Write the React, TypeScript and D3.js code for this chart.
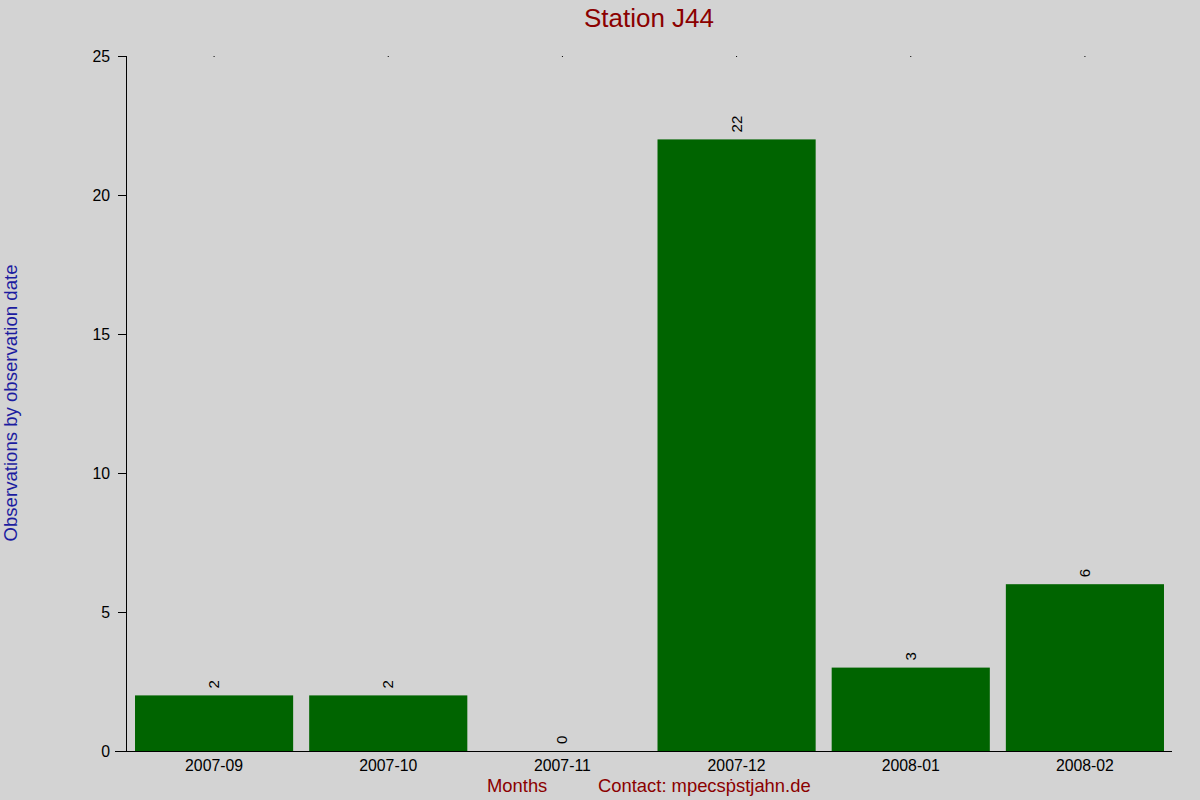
import React from "react";
import * as d3 from "d3";

const categories = ["2007-09", "2007-10", "2007-11", "2007-12", "2008-01", "2008-02"];
const values = [2, 2, 0, 22, 3, 6];
const yTicks = [0, 5, 10, 15, 20, 25];

const W = 1200;
const H = 800;
const font = "'Liberation Sans', Arial, sans-serif";

export default function App() {
  const x = d3.scaleBand<string>().domain(categories).range([127, 1172]).paddingInner(0.092).paddingOuter(0.046);
  const y = d3.scaleLinear().domain([0, 25]).range([751, 56]);
  return (
    <svg width={W} height={H} style={{ position: "fixed", left: 0, top: 0 }} fontFamily={font}>
      <rect x={0} y={0} width={W} height={H} fill="#d3d3d3" />
      <text x={649} y={27} textAnchor="middle" fontSize={26} fill="#8b0000">Station J44</text>
      <text transform={`translate(17,403) rotate(-90)`} textAnchor="middle" fontSize={18.6} fill="#1c1ca0">Observations by observation date</text>
      {categories.map((c, i) => {
        const v = values[i];
        const bx = x(c)!;
        const cx = bx + x.bandwidth() / 2;
        return (
          <g key={c}>
            {v > 0 && <rect x={bx} y={y(v)} width={x.bandwidth()} height={y(0) - y(v)} fill="#006400" />}
            <text transform={`translate(${cx + 5},${y(v) - 7}) rotate(-90)`} fontSize={15} fill="#000">{v}</text>
            <rect x={cx - 0.5} y={56} width={1} height={1} fill="#000" />
            <text x={cx} y={771} textAnchor="middle" fontSize={15.8} fill="#000">{c}</text>
          </g>
        );
      })}
      <line x1={126.5} x2={126.5} y1={56} y2={751} stroke="#000" strokeWidth={1} />
      <line x1={115} x2={1172} y1={751.5} y2={751.5} stroke="#000" strokeWidth={1} />
      {yTicks.map((t) => (
        <g key={t}>
          <line x1={118} x2={126} y1={Math.round(y(t)) + 0.5} y2={Math.round(y(t)) + 0.5} stroke="#000" />
          <text x={110} y={y(t) + 5.5} textAnchor="end" fontSize={15.8} fill="#000">{t}</text>
        </g>
      ))}
      <text x={487} y={792} fontSize={18.4} fill="#8b0000">Months</text>
      <text x={598} y={792} fontSize={18.4} fill="#8b0000">Contact: mpecsṗstjahn.de</text>
    </svg>
  );
}
